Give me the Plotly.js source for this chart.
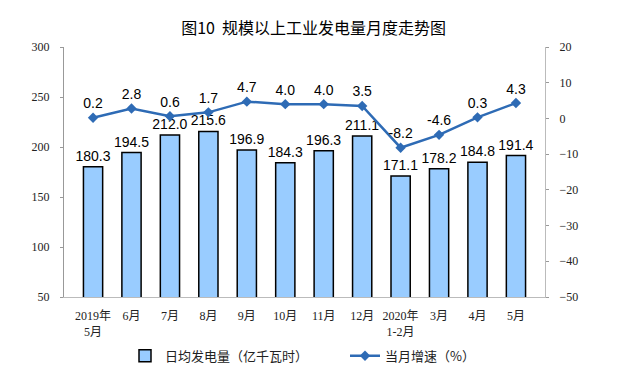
<!DOCTYPE html>
<html><head><meta charset="utf-8">
<script src="https://cdn.plot.ly/plotly-3.0.1.min.js"></script>
<style>html,body{margin:0;padding:0;background:#fff}#chart{width:640px;height:382px}</style>
</head><body><div id="chart"></div>
<script>
const categories = ["2019年<br>5月","6月","7月","8月","9月","10月","11月","12月","2020年<br>1-2月","3月","4月","5月"];
const dailyOutput = [180.3,194.5,212.0,215.6,196.9,184.3,196.3,211.1,171.1,178.2,184.8,191.4];
const growthRate = [0.2,2.8,0.6,1.7,4.7,4.0,4.0,3.5,-8.2,-4.6,0.3,4.3];
const barName = "日均发电量（亿千瓦时）";
const lineName = "当月增速（%）";
const titleText = "图10  规模以上工业发电量月度走势图";

const labelFont = {family:"Liberation Sans, Arial, sans-serif", size:14, color:"#000"};
const tickFont = {family:"Liberation Serif, 'Noto Sans CJK SC', serif", size:12, color:"#222"};
const legendFont = {family:"'Noto Sans CJK SC', sans-serif", size:13, color:"#222"};

const traces = [
  {type:"bar", x:categories, y:dailyOutput, name:barName, legend:"legend",
   width:0.5,
   marker:{color:"#99CCFF", line:{color:"#000", width:1.5}},
   text:dailyOutput.map(v=>v.toFixed(1)), textposition:"outside", textfont:labelFont,
   constraintext:"none", cliponaxis:false, hoverinfo:"none"},
  {type:"scatter", mode:"lines+markers+text", x:categories, y:growthRate, yaxis:"y2", name:lineName, legend:"legend2",
   line:{color:"#2E6BB5", width:2.5},
   marker:{symbol:"diamond", size:8, color:"#2E6BB5"},
   text:growthRate.map(v=>v.toFixed(1)), textposition:"top center", textfont:labelFont,
   cliponaxis:false, hoverinfo:"none"}
];

const layout = {
  width:640, height:382,
  margin:{l:64, r:95, t:47, b:85, autoexpand:false},
  paper_bgcolor:"#fff", plot_bgcolor:"#fff",
  title:{text:titleText, x:0.49, xanchor:"center", y:0.925, yanchor:"middle",
         font:{family:"'Noto Sans CJK SC', sans-serif", size:16, color:"#000"}},
  showlegend:true,
  legend:{xref:"paper", yref:"paper", x:(125-64)/481, xanchor:"left", y:-0.235, yanchor:"middle",
          font:legendFont, itemwidth:30, bgcolor:"rgba(0,0,0,0)"},
  legend2:{xref:"paper", yref:"paper", x:(345-64)/481, xanchor:"left", y:-0.235, yanchor:"middle",
          font:legendFont, itemwidth:30, bgcolor:"rgba(0,0,0,0)"},
  bargap:0.5,
  xaxis:{type:"category", showline:true, linecolor:"#bbb", linewidth:1,
         ticks:"", tickfont:tickFont, showgrid:false, zeroline:false, fixedrange:true, ticklabelstandoff:8},
  yaxis:{range:[50,300], dtick:50, showline:true, linecolor:"#999", linewidth:1,
         ticks:"outside", ticklen:3, tickcolor:"#999", tickfont:tickFont,
         showgrid:false, zeroline:false, ticklabelstandoff:8},
  yaxis2:{range:[-50,20], dtick:10, overlaying:"y", side:"right", showline:true,
          linecolor:"#bbb", linewidth:1, ticks:"outside", ticklen:3, tickcolor:"#999",
          tickfont:tickFont, showgrid:false, zeroline:false, ticklabelstandoff:8}
};
Plotly.newPlot("chart", traces, layout, {displayModeBar:false, staticPlot:true});
</script></body></html>
